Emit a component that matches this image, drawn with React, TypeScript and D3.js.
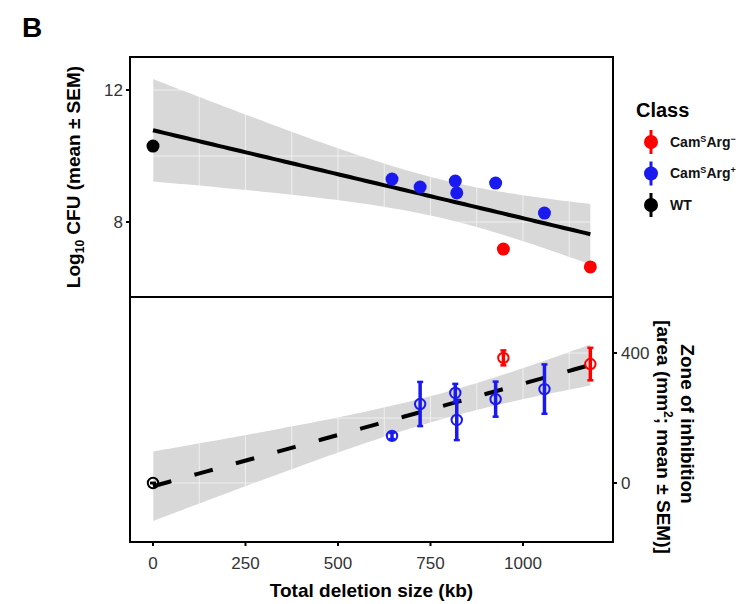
import React from "react";
import * as d3 from "d3";

// strains
const deletionKb = [0, 646, 722, 817, 821, 926, 1058, 947, 1182];
const strainClass = ["WT", "plus", "plus", "plus", "plus", "plus", "plus", "minus", "minus"];
const log10Cfu = [10.3, 9.3, 9.06, 9.24, 8.88, 9.18, 8.27, 7.18, 6.64];
const zoneMean = [0, 145, 243, 277, 194, 258, 289, 385, 366];
const zoneSem = [0, 10, 68, 28, 62, 54, 76, 23, 50];

const legendClasses = ["minus", "plus", "WT"];
const xTicks = [0, 250, 500, 750, 1000];
const cfuTicks = [8, 12];
const zoneTicks = [0, 400];

const classColor: Record<string, string> = {
  minus: "#ff0000",
  plus: "#1a1af0",
  WT: "#000000",
};

const font = "'Liberation Sans', Arial, sans-serif";

// ggplot-like lm fit with 95% confidence band
function lmBand(xs: number[], ys: number[], nPts = 80) {
  const n = xs.length;
  const mx = d3.mean(xs)!;
  const my = d3.mean(ys)!;
  const sxx = d3.sum(xs, (x) => (x - mx) ** 2);
  const sxy = d3.sum(xs.map((x, i) => (x - mx) * (ys[i] - my)));
  const b = sxy / sxx;
  const a = my - b * mx;
  const sse = d3.sum(xs.map((x, i) => (ys[i] - a - b * x) ** 2));
  const s = Math.sqrt(sse / (n - 2));
  const t = 2.3646; // qt(0.975, df = 7)
  const [x0, x1] = d3.extent(xs) as [number, number];
  return d3.range(nPts + 1).map((k) => {
    const x = x0 + ((x1 - x0) * k) / nPts;
    const fit = a + b * x;
    const hw = t * s * Math.sqrt(1 / n + (x - mx) ** 2 / sxx);
    return { x, fit, lo: fit - hw, hi: fit + hw };
  });
}

const App = () => {
  const left = 130, right = 613;
  const topY0 = 57, topY1 = 297, botY1 = 542;

  const x = d3.scaleLinear().domain([0, 1000]).range([153, 523]);
  const yTop = d3.scaleLinear().domain([8, 12]).range([222, 90]);
  const yBot = d3.scaleLinear().domain([0, 400]).range([483, 353]);

  const bandTop = lmBand(deletionKb, log10Cfu);
  const bandBot = lmBand(deletionKb, zoneMean);

  const areaTop = d3.area<any>().x((d) => x(d.x)).y0((d) => yTop(d.lo)).y1((d) => yTop(d.hi));
  const lineTop = d3.line<any>().x((d) => x(d.x)).y((d) => yTop(d.fit));
  const areaBot = d3.area<any>().x((d) => x(d.x)).y0((d) => yBot(d.lo)).y1((d) => yBot(d.hi));
  const lineBot = d3.line<any>().x((d) => x(d.x)).y((d) => yBot(d.fit));

  const gridX = d3.range(0, 1250, 125);
  const gridTop = [6, 8, 10, 12];
  const gridBot = [-200, 0, 200, 400];

  const legendY = d3.scalePoint().domain(legendClasses).range([142, 205]);

  return (
    <svg width={740} height={604} style={{ position: "absolute", left: 0, top: 0, background: "#fff" }} fontFamily={font}>
      <text x={22} y={37} fontSize={28} fontWeight="bold">B</text>

      <defs>
        <clipPath id="clipTop"><rect x={left} y={topY0} width={right - left} height={topY1 - topY0} /></clipPath>
        <clipPath id="clipBot"><rect x={left} y={topY1} width={right - left} height={botY1 - topY1} /></clipPath>
      </defs>

      {/* top panel */}
      <g clipPath="url(#clipTop)">
        <path d={areaTop(bandTop)!} fill="#d8d8d8" />
        {gridX.map((v) => (
          <line key={"gx" + v} x1={x(v)} x2={x(v)} y1={topY0} y2={topY1} stroke="#fff" strokeOpacity={0.6} />
        ))}
        {gridTop.map((v) => (
          <line key={"gy" + v} x1={left} x2={right} y1={yTop(v)} y2={yTop(v)} stroke="#fff" strokeOpacity={0.6} />
        ))}
        <path d={lineTop(bandTop)!} fill="none" stroke="#000" strokeWidth={4} />
        {deletionKb.map((d, i) => (
          <circle key={i} cx={x(d)} cy={yTop(log10Cfu[i])} r={6.5} fill={classColor[strainClass[i]]} />
        ))}
      </g>

      {/* bottom panel */}
      <g clipPath="url(#clipBot)">
        <path d={areaBot(bandBot)!} fill="#d8d8d8" />
        {gridX.map((v) => (
          <line key={"bx" + v} x1={x(v)} x2={x(v)} y1={topY1} y2={botY1} stroke="#fff" strokeOpacity={0.6} />
        ))}
        {gridBot.map((v) => (
          <line key={"by" + v} x1={left} x2={right} y1={yBot(v)} y2={yBot(v)} stroke="#fff" strokeOpacity={0.6} />
        ))}
        <path d={lineBot(bandBot)!} fill="none" stroke="#000" strokeWidth={4} strokeDasharray="19 24" />
        {deletionKb.map((d, i) => {
          const c = classColor[strainClass[i]];
          const cx = x(d);
          const hi = yBot(zoneMean[i] + zoneSem[i]);
          const lo = yBot(zoneMean[i] - zoneSem[i]);
          return (
            <g key={i}>
              <line x1={cx} x2={cx} y1={hi} y2={lo} stroke={c} strokeWidth={3.5} />
              <line x1={cx - 3} x2={cx + 3} y1={hi} y2={hi} stroke={c} strokeWidth={2.5} />
              <line x1={cx - 3} x2={cx + 3} y1={lo} y2={lo} stroke={c} strokeWidth={2.5} />
              <circle cx={cx} cy={yBot(zoneMean[i])} r={5.2} fill="none" stroke={c} strokeWidth={2} />
            </g>
          );
        })}
      </g>

      {/* panel borders */}
      <rect x={left} y={topY0} width={right - left} height={topY1 - topY0} fill="none" stroke="#000" strokeWidth={2} />
      <rect x={left} y={topY1} width={right - left} height={botY1 - topY1} fill="none" stroke="#000" strokeWidth={2} />

      {/* left axis (top panel) */}
      {cfuTicks.map((v) => (
        <g key={"ct" + v}>
          <line x1={left - 4} x2={left} y1={yTop(v)} y2={yTop(v)} stroke="#000" strokeWidth={2} />
          <text x={left - 7} y={yTop(v)} dy="0.35em" textAnchor="end" fontSize={17} fill="#333">{v}</text>
        </g>
      ))}
      <text transform={`translate(80,${(topY0 + topY1) / 2}) rotate(-90)`} textAnchor="middle" fontSize={19} fontWeight="bold">
        Log<tspan fontSize={12} dy={4}>10</tspan><tspan dy={-4}> CFU (mean ± SEM)</tspan>
      </text>

      {/* right axis (bottom panel) */}
      {zoneTicks.map((v) => (
        <g key={"zt" + v}>
          <line x1={right} x2={right + 4} y1={yBot(v)} y2={yBot(v)} stroke="#000" strokeWidth={2} />
          <text x={right + 8} y={yBot(v)} dy="0.35em" fontSize={17} fill="#333">{v}</text>
        </g>
      ))}
      <text transform={`translate(681,424) rotate(90)`} textAnchor="middle" fontSize={19} fontWeight="bold">Zone of inhibition</text>
      <text transform={`translate(657,437) rotate(90)`} textAnchor="middle" fontSize={19} fontWeight="bold">
        [area (mm<tspan fontSize={12} dy={-7}>2</tspan><tspan dy={7}>; mean ± SEM)]</tspan>
      </text>

      {/* x axis */}
      {xTicks.map((v) => (
        <g key={"xt" + v}>
          <line x1={x(v)} x2={x(v)} y1={botY1} y2={botY1 + 4} stroke="#000" strokeWidth={2} />
          <text x={x(v)} y={569} textAnchor="middle" fontSize={17} fill="#333">{v}</text>
        </g>
      ))}
      <text x={(left + right) / 2} y={597} textAnchor="middle" fontSize={19} fontWeight="bold">Total deletion size (kb)</text>

      {/* legend */}
      <text x={636} y={117} fontSize={20} fontWeight="bold">Class</text>
      {legendClasses.map((k) => {
        const cy = legendY(k)!;
        const c = classColor[k];
        return (
          <g key={k}>
            <line x1={651} x2={651} y1={cy - 12} y2={cy + 12} stroke={c} strokeWidth={3} />
            <circle cx={651} cy={cy} r={7} fill={c} />
            <text x={670} y={cy} dy="0.35em" fontSize={14} fontWeight="bold" fill="#111">
              {k === "WT" ? (
                "WT"
              ) : (
                <>
                  Cam<tspan fontSize={9} dy={-5}>S</tspan>
                  <tspan dy={5}>Arg</tspan>
                  <tspan fontSize={9} dy={-5}>{k === "minus" ? "−" : "+"}</tspan>
                </>
              )}
            </text>
          </g>
        );
      })}
    </svg>
  );
};

export default App;
